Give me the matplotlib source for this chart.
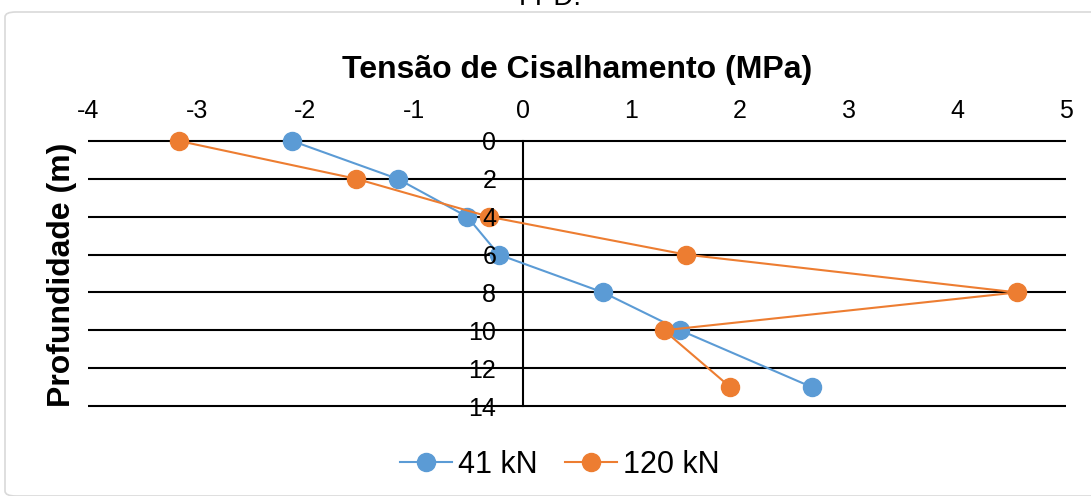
import matplotlib.pyplot as plt
from matplotlib.lines import Line2D
from matplotlib.patches import FancyBboxPatch

plt.rcParams['font.family'] = ['Liberation Sans', 'DejaVu Sans']

# Data
depth_41 = [0, 2, 4, 6, 8, 10, 13]
shear_41 = [-2.12, -1.15, -0.51, -0.22, 0.74, 1.45, 2.66]
depth_120 = [0, 2, 4, 6, 8, 10, 13]
shear_120 = [-3.16, -1.53, -0.31, 1.50, 4.55, 1.30, 1.91]

x_ticks = [-4, -3, -2, -1, 0, 1, 2, 3, 4, 5]
y_ticks = [0, 2, 4, 6, 8, 10, 12, 14]

BLUE = '#5B9BD5'
ORANGE = '#ED7D31'

fig = plt.figure(figsize=(10.91, 4.96), dpi=100)

# chart border
border = FancyBboxPatch((5 / 1091, 0.0), 1.2, 1 - 12 / 496, transform=fig.transFigure,
                        boxstyle='round,pad=0,rounding_size=0.01', fc='none',
                        ec='#D9D9D9', lw=1.2, zorder=-1)
fig.patches.append(border)
fig.text(550 / 1091, 1 - 11 / 496, 'FPD.', ha='center', va='bottom', fontsize=20)

ax = fig.add_axes([88 / 1091, 1 - 406 / 496, 978 / 1091, 265 / 496])
ax.set_xlim(-4, 5)
ax.set_ylim(14, 0)
ax.patch.set_alpha(0)

ax.hlines(y_ticks, -4, 5, color='black', lw=1.5, zorder=1, clip_on=False)

for x, y, c, lab in [(shear_41, depth_41, BLUE, '41 kN'),
                     (shear_120, depth_120, ORANGE, '120 kN')]:
    ax.plot(x, y, color=c, lw=1.5, marker='o', ms=13, mec=c, mfc=c,
            label=lab, zorder=2, clip_on=False)

for s in ['top', 'bottom', 'right']:
    ax.spines[s].set_visible(False)
ax.spines['left'].set_position(('data', 0))
ax.spines['left'].set_linewidth(1.5)
ax.spines['left'].set_zorder(1)

ax.xaxis.tick_top()
ax.set_xticks(x_ticks)
ax.set_xticklabels([str(v) for v in x_ticks])
ax.tick_params(axis='x', length=0, pad=13, labelsize=18)
ax.set_yticks(y_ticks)
ax.set_yticklabels([str(v) for v in y_ticks])
ax.tick_params(axis='y', length=0, pad=19, labelsize=18)
# depth labels sit on top of the markers, as in the original
ax.yaxis.set_zorder(5)

ax.xaxis.set_label_position('top')
ax.set_xlabel('Tensão de Cisalhamento (MPa)', fontsize=23, fontweight='bold', labelpad=15)
fig.text(62 / 1091, 1 - 275 / 496, 'Profundidade (m)', rotation=90, ha='center',
         va='center', fontsize=23, fontweight='bold')

handles = [Line2D([], [], color=BLUE, lw=1.5, marker='o', ms=13),
           Line2D([], [], color=ORANGE, lw=1.5, marker='o', ms=13)]
fig.legend(handles, ['41 kN', '120 kN'], loc='center', bbox_to_anchor=(560 / 1091, 1 - 465 / 496),
           ncol=2, frameon=False, fontsize=22, handlelength=1.7, columnspacing=0.9,
           handletextpad=0.2)

fig.savefig('out.png', dpi=100)
